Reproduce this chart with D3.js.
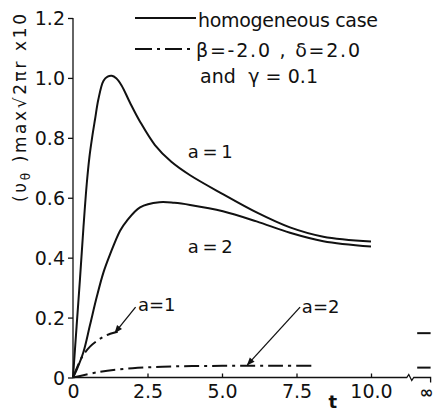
<!DOCTYPE html>
<meta charset="utf-8">
<script src="https://d3js.org/d3.v7.min.js"></script>
<style>
  body { margin: 0; background: #fff; }
  text { font-family: "DejaVu Sans", sans-serif; fill: #111; }
</style>
<div id="chart"></div>
<script>
  // homogeneous case, a = 1 and a = 2
  const tHom1 = [0, 0.12, 0.235, 0.35, 0.46, 0.55, 0.64, 0.74, 0.85, 1.02, 1.16, 1.3, 1.45, 1.63, 1.91, 2.25, 2.75, 3.3, 3.93, 5.03, 6.16, 7.28, 8.4, 10];
  const vHom1 = [0, 0.17, 0.33, 0.5, 0.645, 0.735, 0.8, 0.862, 0.928, 0.99, 1.004, 1.007, 0.999, 0.975, 0.918, 0.854, 0.776, 0.72, 0.675, 0.612, 0.551, 0.501, 0.47, 0.454];
  const tHom2 = [0, 0.12, 0.35, 0.57, 0.8, 1.02, 1.24, 1.58, 1.8, 2.25, 2.9, 3.4, 3.93, 5.03, 6.16, 7.28, 8.4, 10];
  const vHom2 = [0, 0.025, 0.085, 0.175, 0.27, 0.35, 0.41, 0.49, 0.522, 0.568, 0.585, 0.583, 0.576, 0.555, 0.521, 0.483, 0.455, 0.437];

  // beta = -2.0, delta = 2.0, gamma = 0.1
  const tInh1 = [0, 0.3, 0.57, 0.8, 1.02, 1.25, 1.5];
  const vInh1 = [0, 0.068, 0.103, 0.122, 0.136, 0.146, 0.153];
  const tInh2 = [0, 0.9, 2, 3, 4, 5, 6, 7, 8];
  const vInh2 = [0, 0.019, 0.031, 0.036, 0.038, 0.039, 0.039, 0.039, 0.039];

  // values at t = infinity
  const infValues = [0.148, 0.033];

  const xTicks = [0, 2.5, 5, 7.5, 10];
  const xTickLabels = ["0", "2.5", "5.0", "7.5", "10.0"];
  const yTicks = [0, 0.2, 0.4, 0.6, 0.8, 1.0, 1.2];
  const yTickLabels = ["0", "0.2", "0.4", "0.6", "0.8", "1.0", "1.2"];

  const width = 436, height = 413;
  const tInf = 12; // where the "infinity" column sits on the t scale

  const svg = d3.select("#chart").append("svg")
    .attr("width", width)
    .attr("height", height);

  const x = d3.scaleLinear().domain([0, tInf]).range([73, 430.6]);
  const y = d3.scaleLinear().domain([0, 1.2]).range([377.5, 18]);

  // y axis
  const yAxis = svg.append("g")
    .attr("transform", `translate(${x(0)},0)`)
    .call(d3.axisLeft(y).tickValues(yTicks).tickSize(5).tickSizeOuter(0).tickPadding(3)
      .tickFormat((d, i) => yTickLabels[i]));
  yAxis.selectAll("text").style("font-size", "19px").attr("dy", "0.36em");
  yAxis.selectAll("line, path").attr("stroke", "#111").attr("stroke-width", 1.3);
  yAxis.select(".domain").attr("d", `M0,${y(0)}V${y(1.2)}`);

  // x axis (ticks point up, labels below)
  const xAxis = svg.append("g")
    .attr("transform", `translate(0,${y(0)})`)
    .call(d3.axisBottom(x).tickValues(xTicks).tickSizeInner(-4).tickSizeOuter(0).tickPadding(7)
      .tickFormat((d, i) => xTickLabels[i]));
  xAxis.select(".domain").remove();
  xAxis.selectAll("text").style("font-size", "19px");
  xAxis.selectAll("line").attr("stroke", "#111").attr("stroke-width", 1.3);
  xAxis.selectAll(".tick").filter(d => d === 0).select("line").remove();

  // axis line with break before infinity
  const xb = x(11.2);
  svg.append("path")
    .attr("d", `M${x(0)},${y(0)}H${xb}l2,-3l3,6l2,-3H${x(tInf)}v5`)
    .attr("fill", "none").attr("stroke", "#111").attr("stroke-width", 1.3);
  svg.append("text")
    .attr("x", x(tInf) - 4).attr("y", y(0) + 20)
    .attr("text-anchor", "middle")
    .style("font-size", "17px").style("font-weight", "bold")
    .text("∞");

  svg.append("text")
    .attr("x", x(8.72)).attr("y", 408)
    .attr("text-anchor", "middle")
    .style("font-size", "18px").style("font-weight", "bold")
    .text("t");

  // y axis title
  const yTitle = svg.append("text")
    .attr("transform", "translate(26,108) rotate(-90)")
    .attr("text-anchor", "middle")
    .attr("textLength", 188)
    .attr("lengthAdjust", "spacing")
    .style("font-size", "17px");
  yTitle.append("tspan").text("(υ");
  yTitle.append("tspan").attr("dy", 4).style("font-size", "12px").text("θ");
  yTitle.append("tspan").attr("dy", -4).text(" )max√2πr x10");

  const line = d3.line()
    .x(d => x(d[0]))
    .y(d => y(d[1]))
    .curve(d3.curveCatmullRom.alpha(0.5));

  const series = [
    { t: tHom1, v: vHom1, dash: null },
    { t: tHom2, v: vHom2, dash: null },
    { t: tInh1, v: vInh1, dash: "15,5,3,5" },
    { t: tInh2, v: vInh2, dash: "15,5,3,5" }
  ];

  svg.selectAll(".curve")
    .data(series)
    .join("path")
      .attr("class", "curve")
      .attr("d", s => line(s.t.map((t, i) => [t, s.v[i]])))
      .attr("fill", "none")
      .attr("stroke", "#111")
      .attr("stroke-width", 2)
      .attr("stroke-dasharray", s => s.dash);

  // values at infinity
  svg.selectAll(".inf")
    .data(infValues)
    .join("line")
      .attr("class", "inf")
      .attr("x1", x(11.55)).attr("x2", x(12))
      .attr("y1", d => y(d)).attr("y2", d => y(d))
      .attr("stroke", "#111").attr("stroke-width", 2);

  // arrow marker
  svg.append("defs").append("marker")
    .attr("id", "arr")
    .attr("viewBox", "0 0 10 10")
    .attr("refX", 9).attr("refY", 5)
    .attr("markerWidth", 10).attr("markerHeight", 8)
    .attr("markerUnits", "userSpaceOnUse")
    .attr("orient", "auto")
    .append("path").attr("d", "M0,1L10,5L0,9z").attr("fill", "#111");

  const arrows = [
    { from: [2.1, 0.235], to: [1.41, 0.15] },
    { from: [7.62, 0.235], to: [5.85, 0.042] }
  ];
  svg.selectAll(".arrow")
    .data(arrows)
    .join("line")
      .attr("class", "arrow")
      .attr("x1", d => x(d.from[0])).attr("y1", d => y(d.from[1]))
      .attr("x2", d => x(d.to[0])).attr("y2", d => y(d.to[1]))
      .attr("stroke", "#111").attr("stroke-width", 1.3)
      .attr("marker-end", "url(#arr)");

  const labels = [
    { t: 3.85, v: 0.733, s: "a = 1", ws: -2 },
    { t: 3.85, v: 0.415, s: "a = 2", ws: -2 },
    { t: 2.18, v: 0.222, s: "a=1", ws: 0 },
    { t: 7.68, v: 0.215, s: "a=2", ws: 0 }
  ];
  svg.selectAll(".lab")
    .data(labels)
    .join("text")
      .attr("class", "lab")
      .attr("x", d => x(d.t)).attr("y", d => y(d.v))
      .style("word-spacing", d => d.ws + "px")
      .style("font-size", "18px")
      .text(d => d.s);

  // legend
  const lg = svg.append("g");
  lg.append("line").attr("x1", 135).attr("x2", 196).attr("y1", 18).attr("y2", 18)
    .attr("stroke", "#111").attr("stroke-width", 2);
  lg.append("text").attr("x", 198).attr("y", 27).style("font-size", "19px")
    .attr("textLength", 180).attr("lengthAdjust", "spacing").text("homogeneous case");
  lg.append("line").attr("x1", 135).attr("x2", 194).attr("y1", 49).attr("y2", 49)
    .attr("stroke", "#111").attr("stroke-width", 2).attr("stroke-dasharray", "17,5,3,5");
  lg.append("text").attr("x", 196).attr("y", 57).style("font-size", "19px")
    .attr("textLength", 164).attr("lengthAdjust", "spacing").text("β=-2.0 , δ=2.0");
  lg.append("text").attr("x", 200).attr("y", 83).style("font-size", "19px")
    .attr("xml:space", "preserve")
    .attr("textLength", 118).attr("lengthAdjust", "spacing").text("and  γ = 0.1");
</script>
